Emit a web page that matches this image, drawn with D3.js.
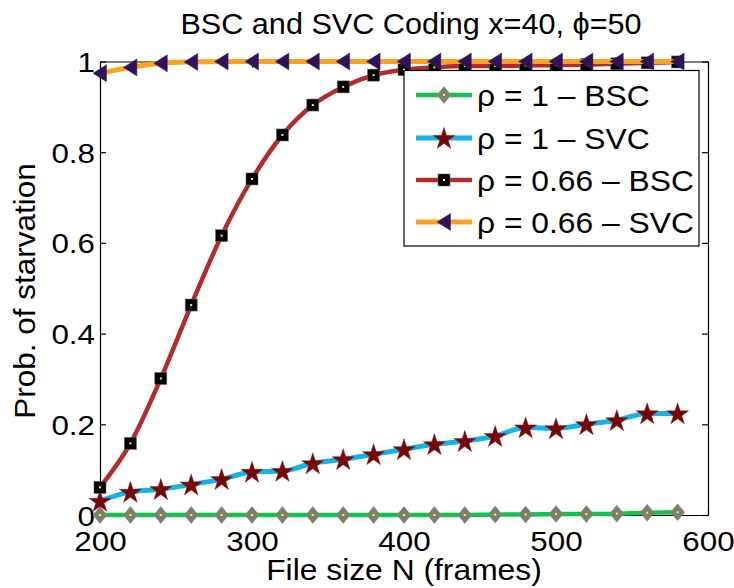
<!DOCTYPE html>
<html>
<head>
<meta charset="utf-8">
<script src="https://cdn.jsdelivr.net/npm/d3@7"></script>
<style>
  html, body { margin: 0; padding: 0; background: #fff; }
  svg { display: block; font-family: "Liberation Sans", Arial, Helvetica, sans-serif; }
</style>
</head>
<body>
<svg id="chart" width="734" height="588"></svg>
<script>
// ---- data ----
const fileSizes = [200,220,240,260,280,300,320,340,360,380,400,420,440,460,480,500,520,540,560,580];
const rho1BSC   = [0,0,0,0,0,0,0,0,0,0,0,0,0,0.001,0.001,0.002,0.002,0.003,0.005,0.006];
const rho1SVC   = [0.031,0.051,0.057,0.067,0.079,0.095,0.097,0.114,0.123,0.134,0.145,0.156,0.163,0.174,0.193,0.191,0.200,0.209,0.224,0.224];
const rho066BSC = [0.061,0.158,0.301,0.463,0.616,0.741,0.838,0.904,0.944,0.970,0.982,0.987,0.990,0.990,0.991,0.992,0.993,0.995,0.997,0.999];
const rho066SVC = [0.974,0.987,0.996,0.999,1,1,1,1,1,1,1,1,1,1,1,1,1,1,1,1];
const seriesNames = ["ρ = 1 – BSC", "ρ = 1 – SVC", "ρ = 0.66 – BSC", "ρ = 0.66 – SVC"];
const xTicks = [200,300,400,500,600];
const yTicks = [0,0.2,0.4,0.6,0.8,1];
const titleText = "BSC and SVC Coding x=40, \u03d5=50";
const xLabel = "File size N (frames)";
const yLabel = "Prob. of starvation";

// ---- styles ----
const styles = [
  {line:"#14c050", lw:4.5, marker:"diamond",  fill:"#7a8070", dot:true},
  {line:"#14b4e6", lw:5,   marker:"star",     fill:"#740808", dot:false},
  {line:"#b22c2c", lw:4.5, marker:"square",   fill:"#000000", dot:true},
  {line:"#ffa01e", lw:5,   marker:"triangle", fill:"#2e1359", dot:false}
];
const allSeries = [rho1BSC, rho1SVC, rho066BSC, rho066SVC];

// horizontal glyph widening (the reference font renders wider)
function widen(sel, k) {
  sel.each(function() {
    const w = this.getComputedTextLength();
    d3.select(this).attr("textLength", w * k).attr("lengthAdjust", "spacingAndGlyphs");
  });
}

const svg = d3.select("#chart");
const L = 100, R = 708, T = 61.5, B = 515;
const x = d3.scaleLinear().domain([200,600]).range([L,R]);
const y = d3.scaleLinear().domain([0,1]).range([B,T]);

// ---- axes ----
const tickFont = 28;
const gx = svg.append("g").attr("transform",`translate(0,${B})`)
  .call(d3.axisBottom(x).tickValues(xTicks).tickSizeInner(-6).tickSizeOuter(0).tickFormat(d3.format("d")));
gx.selectAll("text").attr("y", 36).attr("dy", null).style("font-size", tickFont+"px").attr("fill","#000");
widen(gx.selectAll("text"), 1.12);
const gy = svg.append("g").attr("transform",`translate(${L},0)`)
  .call(d3.axisLeft(y).tickValues(yTicks).tickSizeInner(-6).tickSizeOuter(0).tickFormat(d => d3.format("")(d)));
gy.selectAll("text").attr("x", -5).attr("dy", "0.36em").style("font-size", tickFont+"px").attr("fill","#000");
widen(gy.selectAll("text"), 1.12);
const gt = svg.append("g").attr("transform",`translate(0,${T})`)
  .call(d3.axisTop(x).tickValues(xTicks).tickSizeInner(-6).tickSizeOuter(0).tickFormat(""));
const gr = svg.append("g").attr("transform",`translate(${R},0)`)
  .call(d3.axisRight(y).tickValues(yTicks).tickSizeInner(-6).tickSizeOuter(0).tickFormat(""));
svg.selectAll(".domain, .tick line").attr("stroke","#000").attr("stroke-width",1.2);

// ---- markers ----
function drawMarker(g, type, fill, dot) {
  if (type === "diamond") {
    g.append("path").attr("d","M0,-8.5L7,0L0,8.5L-7,0Z").attr("fill",fill).attr("stroke","#8a9080").attr("stroke-width",0.6);
  } else if (type === "star") {
    g.append("path").attr("d", d3.symbol(d3.symbolStar, 150)()).attr("transform","translate(0,1)").attr("fill",fill).attr("stroke","#8a2020").attr("stroke-width",0.5);
  } else if (type === "square") {
    g.append("rect").attr("x",-6).attr("y",-6).attr("width",12).attr("height",12).attr("fill",fill).attr("stroke","#666").attr("stroke-width",0.6);
  } else if (type === "triangle") {
    g.append("path").attr("d","M-7,0L6.5,-8.5L6.5,8.5Z").attr("fill",fill).attr("stroke","#3e2369").attr("stroke-width",0.5);
  }
  if (dot) g.append("rect").attr("x",-1).attr("y",-1).attr("width",2).attr("height",2).attr("fill","#ffff00");
}

const line = d3.line().x(d => x(d[0])).y(d => y(d[1])).curve(d3.curveMonotoneX);
allSeries.forEach((vals, i) => {
  const pts = fileSizes.map((f, j) => [f, vals[j]]);
  const st = styles[i];
  const g = svg.append("g");
  g.append("path").datum(pts).attr("d", line).attr("fill","none")
    .attr("stroke", st.line).attr("stroke-width", st.lw).attr("stroke-linejoin","round");
  g.selectAll("g.m").data(pts).enter().append("g").attr("class","m")
    .attr("transform", d => `translate(${x(d[0])},${y(d[1])})`)
    .each(function(){ drawMarker(d3.select(this), st.marker, st.fill, st.dot); });
});

// ---- legend ----
const lg = svg.append("g");
lg.append("rect").attr("x",404).attr("y",70.5).attr("width",295).attr("height",175.5)
  .attr("fill","#fff").attr("stroke","#000").attr("stroke-width",1.2);
const rowY = [95, 138, 180, 222];
seriesNames.forEach((name, i) => {
  const st = styles[i];
  lg.append("line").attr("x1",416).attr("x2",472).attr("y1",rowY[i]).attr("y2",rowY[i])
    .attr("stroke", st.line).attr("stroke-width", st.lw);
  const m = lg.append("g").attr("transform",`translate(444,${rowY[i]})`);
  drawMarker(m, st.marker, st.fill, st.dot);
  const t = lg.append("text").attr("x",477).attr("y",rowY[i]).attr("dy","0.36em")
    .style("font-size","30px").attr("fill","#000").text(name);
  widen(t, 1.06);
});

// ---- titles ----
const tt = svg.append("text").attr("x",411).attr("y",34).attr("text-anchor","middle")
  .style("font-size","30px").attr("fill","#000").text(titleText);
widen(tt, 1.02);
const xl = svg.append("text").attr("x",404).attr("y",580).attr("text-anchor","middle")
  .style("font-size","30px").attr("fill","#000").text(xLabel);
widen(xl, 1.06);
const yl = svg.append("text").attr("transform","translate(35,291) rotate(-90)").attr("text-anchor","middle")
  .style("font-size","30px").attr("fill","#000").text(yLabel);
widen(yl, 1.05);
</script>
</body>
</html>
